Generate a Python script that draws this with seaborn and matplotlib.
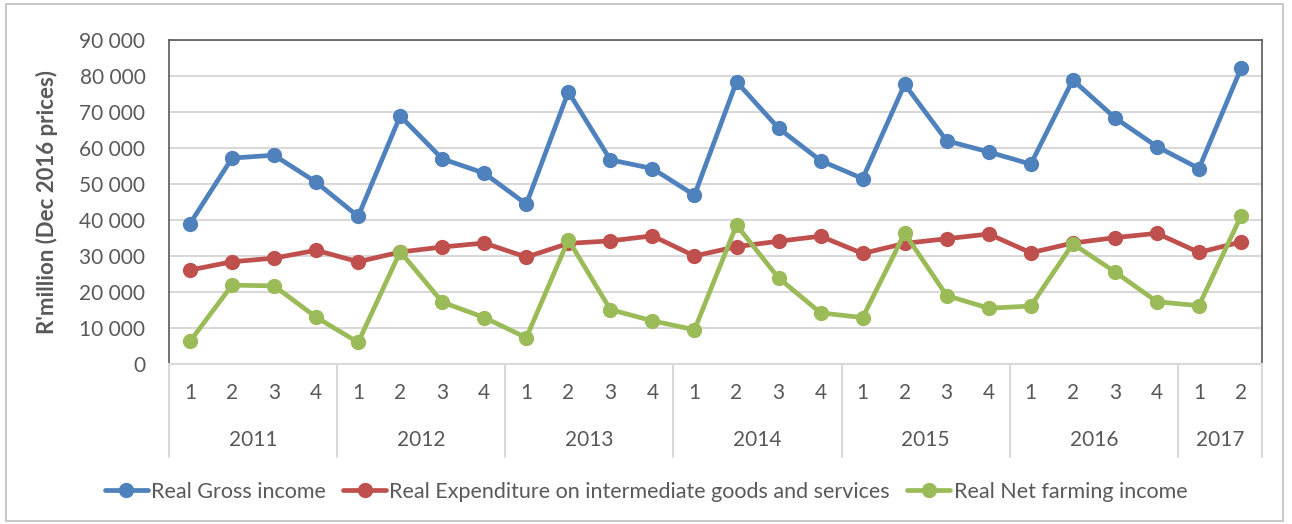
import numpy as np
import pandas as pd
import matplotlib
matplotlib.use("Agg")
import matplotlib.pyplot as plt
import matplotlib.transforms as mtransforms
from matplotlib.patches import Rectangle
from matplotlib.lines import Line2D
import seaborn as sns

years = ["2011", "2012", "2013", "2014", "2015", "2016", "2017"]
quarters_per_year = [4, 4, 4, 4, 4, 4, 2]
quarter_labels = ["1", "2", "3", "4"] * 6 + ["1", "2"]

gross = [39000, 57200, 58000, 50500,
         41000, 68900, 57000, 53000,
         44400, 75600, 56700, 54300,
         46900, 78400, 65500, 56500,
         51500, 77700, 62000, 58900,
         55500, 78900, 68400, 60400,
         54300, 82100]
expenditure = [26100, 28400, 29400, 31600,
               28400, 31100, 32500, 33600,
               29700, 33500, 34200, 35600,
               30000, 32600, 34100, 35500,
               30700, 33500, 34800, 36100,
               30900, 33600, 35100, 36300,
               31000, 33900]
net = [6300, 21900, 21700, 13000,
       6000, 31200, 17200, 12900,
       7300, 34500, 15100, 12000,
       9500, 38600, 23900, 14200,
       12900, 36300, 19000, 15500,
       16100, 33400, 25600, 17300,
       16200, 41100]

series_names = ["Real Gross income",
                "Real Expenditure on intermediate goods and services",
                "Real Net farming income"]
colors = ["#4F81BD", "#C0504D", "#9BBB59"]

n = len(quarter_labels)
idx = np.arange(n)
df = pd.concat([
    pd.DataFrame({"pos": idx, "value": vals, "series": name})
    for name, vals in zip(series_names, [gross, expenditure, net])
])

sns.set_theme(style="white")
plt.rcParams["font.family"] = ["Lato", "DejaVu Sans"]
text_color = "#595959"

fig = plt.figure(figsize=(12.92, 5.24), dpi=100)
ax = fig.add_axes([169 / 1292, 1 - 364 / 524, (1262 - 169) / 1292, (364 - 40) / 524])

sns.lineplot(data=df, x="pos", y="value", hue="series", hue_order=series_names,
             palette=colors, marker="o", markersize=11, markeredgewidth=0,
             linewidth=3.4, ax=ax, legend=False, zorder=3)

ax.set_xlim(-0.5, n - 0.5)
ax.set_ylim(0, 90000)
ax.set_yticks(np.arange(0, 90001, 10000))
ax.set_yticklabels([f"{v:,}".replace(",", " ") for v in range(0, 90001, 10000)])
ax.set_xticks(idx)
ax.set_xticklabels(quarter_labels)
ax.tick_params(axis="both", length=0, labelsize=15, colors=text_color)
ax.tick_params(axis="x", pad=14)
ax.tick_params(axis="y", pad=17)
ax.grid(axis="y", color="#d9d9d9", linewidth=1.5, zorder=0)
ax.set_axisbelow(True)
ax.set_xlabel("")
ax.set_ylabel("R'million (Dec 2016 prices)", fontsize=16, fontweight="bold",
              color=text_color)
ax.yaxis.set_label_coords(-0.102, 0.5)

for side in ["left", "top", "right"]:
    ax.spines[side].set_color("#595959")
    ax.spines[side].set_linewidth(1.2)
ax.spines["bottom"].set_color("#d9d9d9")
ax.spines["bottom"].set_linewidth(1.5)

# year grouping
trans = mtransforms.blended_transform_factory(ax.transData, ax.transAxes)
bottom_sep = -(457 - 364) / 324
start = -0.5
boundaries = [start]
for yr, q in zip(years, quarters_per_year):
    end = start + q
    ax.text((start + end) / 2, -(440 - 364) / 324, yr, transform=trans,
            ha="center", va="center", fontsize=15, color=text_color)
    boundaries.append(end)
    start = end
for b in boundaries:
    ax.add_line(Line2D([b, b], [0, bottom_sep], transform=trans, color="#d9d9d9",
                       linewidth=1.5, clip_on=False))

# legend
handles = [Line2D([0], [0], color=c, linewidth=3.4, marker="o", markersize=11,
                  markeredgewidth=0) for c in colors]
fig.legend(handles, series_names, loc="center", bbox_to_anchor=(0.5, 1 - 492 / 524),
           ncol=3, frameon=False, fontsize=15.5, labelcolor=text_color,
           handlelength=2.0, handletextpad=0.15, columnspacing=0.8)

# outer frame
fig.patches.append(Rectangle((6 / 1292, 3 / 524), (1283 - 6) / 1292, (520 - 3) / 524,
                             transform=fig.transFigure, fill=False,
                             edgecolor="#bfbfbf", linewidth=1.2))

fig.savefig("out.png", dpi=100)
